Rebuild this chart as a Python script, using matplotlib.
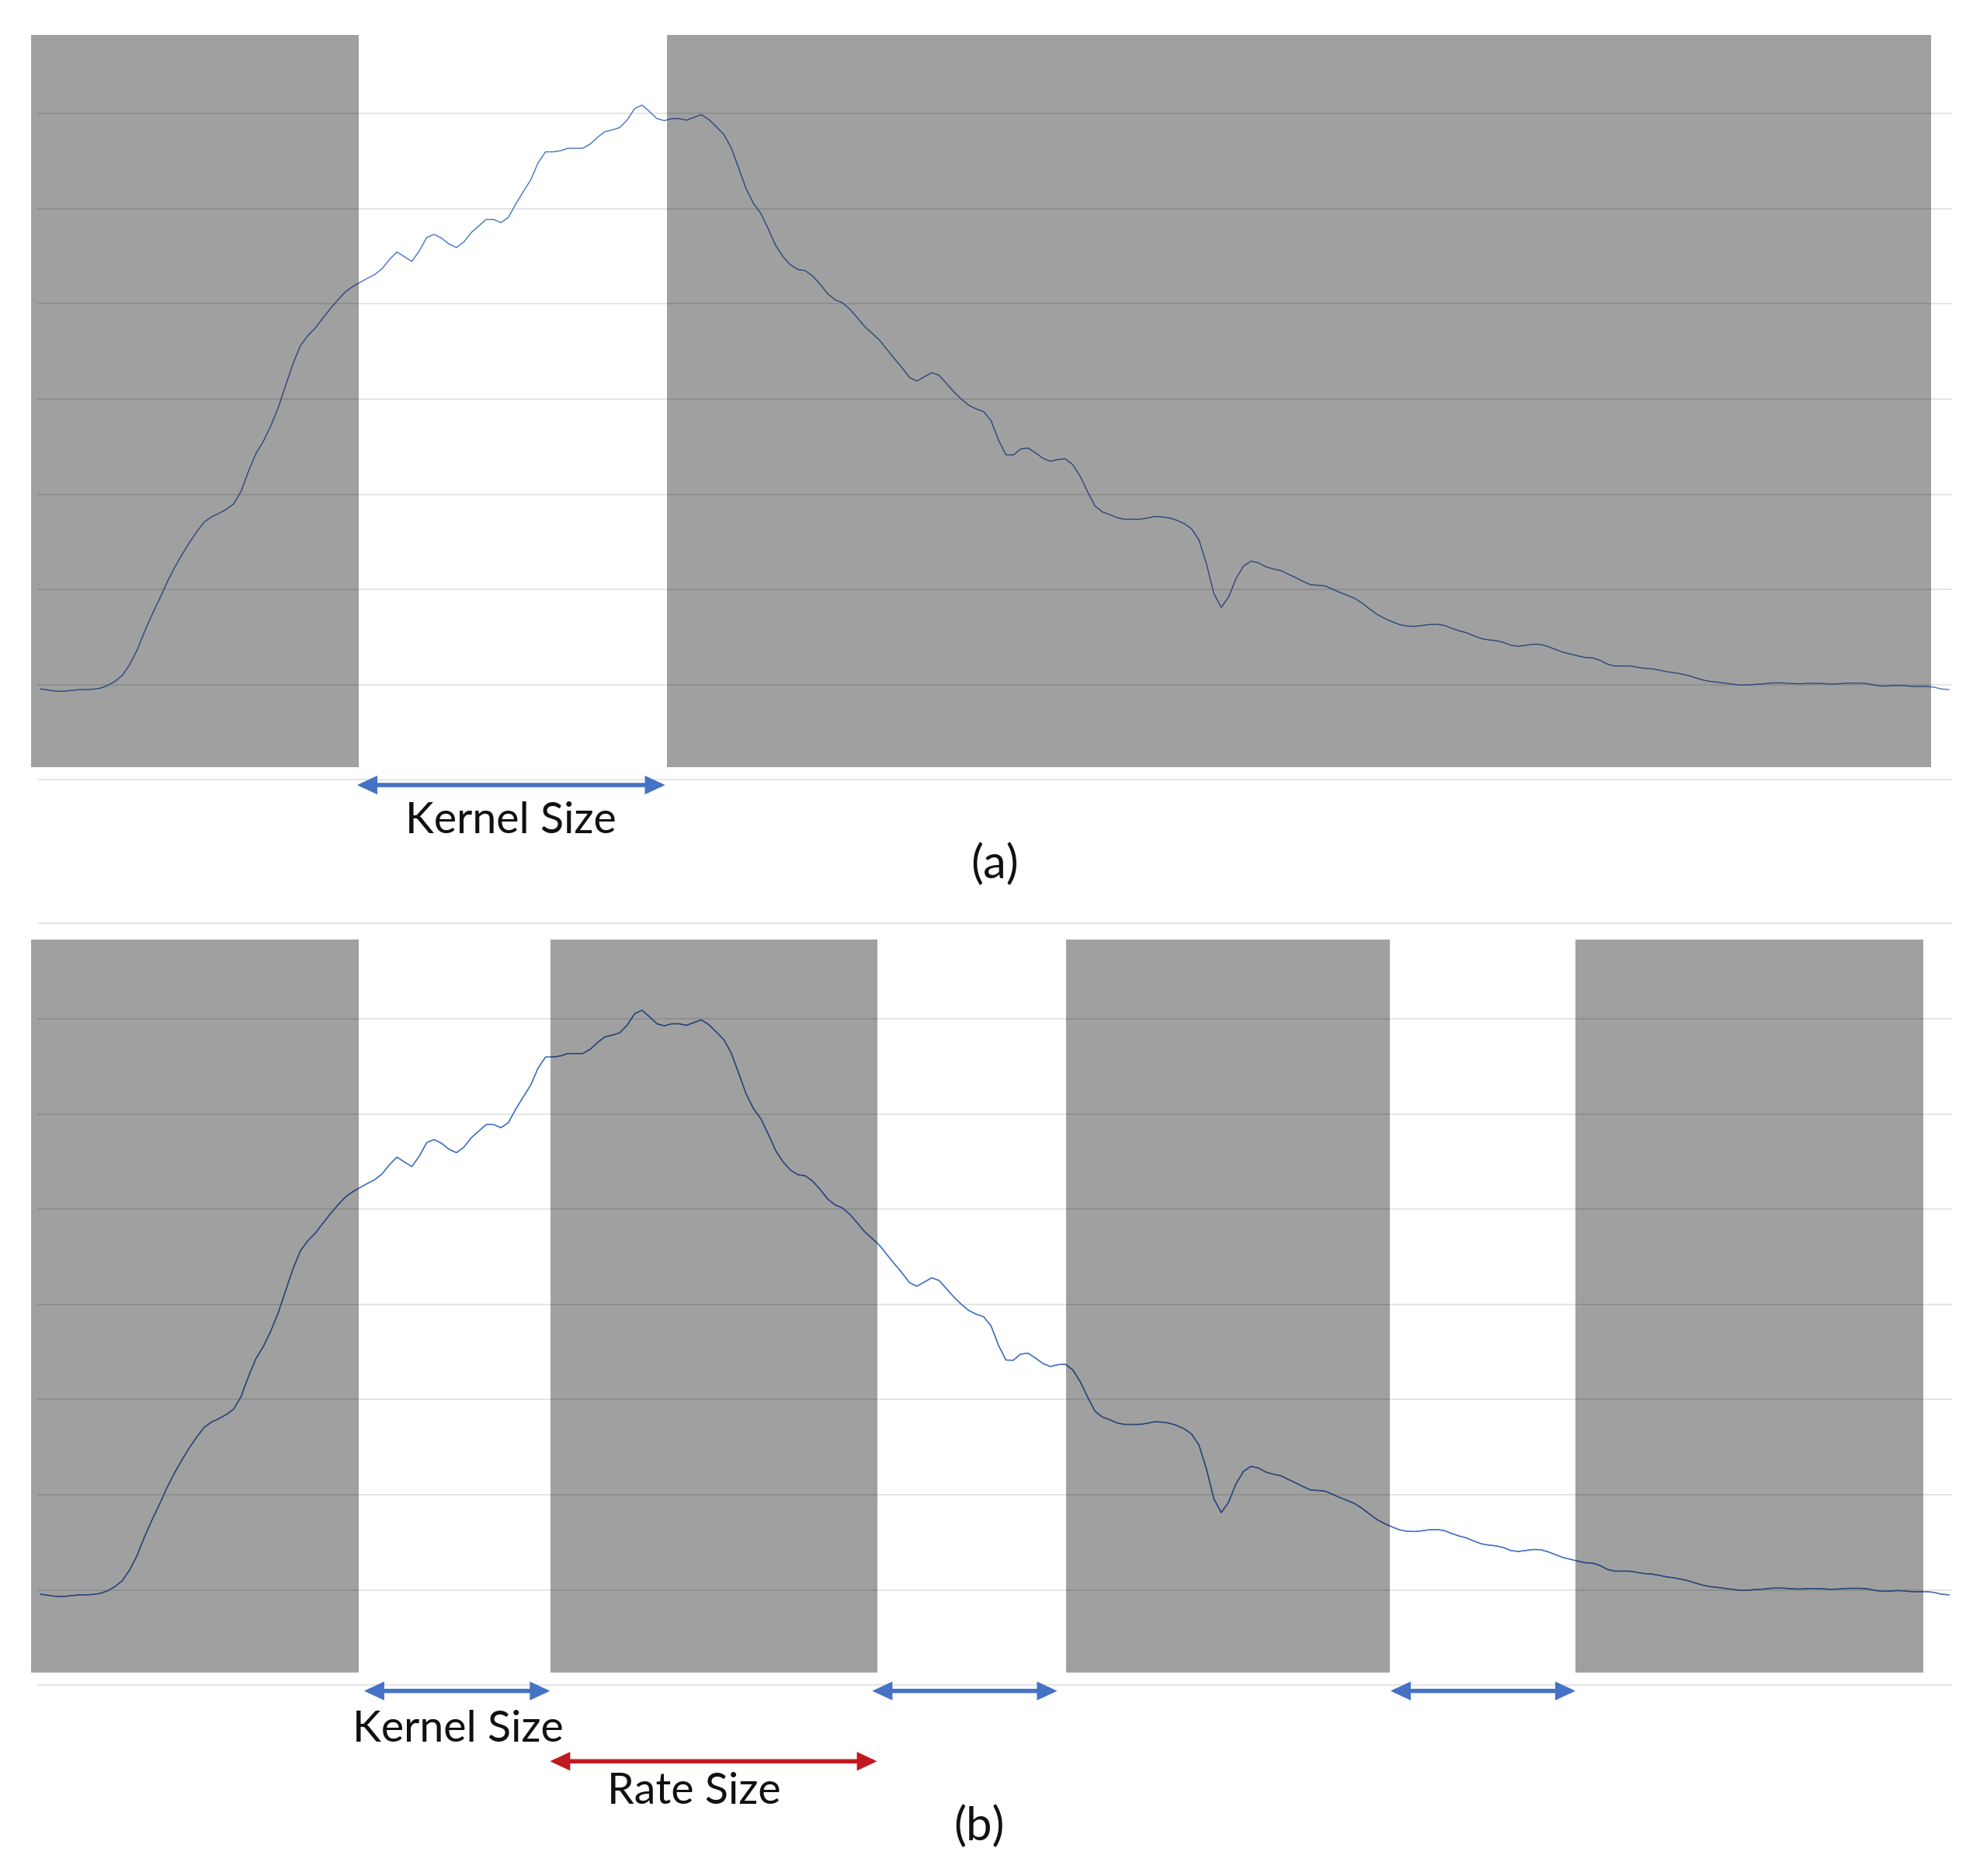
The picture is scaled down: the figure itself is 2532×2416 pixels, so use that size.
import numpy as np
import matplotlib.pyplot as plt
from matplotlib.patches import Rectangle, FancyArrowPatch

plt.rcParams['font.family'] = ['Lato', 'DejaVu Sans']

# signal, one value per step (grid units: gridlines every 10)
values = [
    9.55, 9.44, 9.33, 9.31, 9.39, 9.47, 9.49, 9.52, 9.63, 9.90,
    10.34, 10.97, 12.11, 13.63, 15.59, 17.35, 18.98, 20.70, 22.25, 23.61,
    24.89, 26.03, 27.06, 27.63, 27.99, 28.42, 28.99, 30.32, 32.44, 34.29,
    35.57, 37.20, 39.10, 41.44, 43.75, 45.63, 46.69, 47.48, 48.50, 49.49,
    50.40, 51.24, 51.81, 52.26, 52.69, 53.09, 53.71, 54.69, 55.46, 54.95,
    54.47, 55.57, 56.99, 57.31, 56.91, 56.29, 55.93, 56.51, 57.50, 58.19,
    58.88, 58.88, 58.55, 59.09, 60.52, 61.79, 63.03, 64.82, 65.98, 65.98,
    66.09, 66.35, 66.35, 66.35, 66.78, 67.51, 68.10, 68.28, 68.53, 69.33,
    70.53, 70.89, 70.21, 69.47, 69.26, 69.47, 69.47, 69.31, 69.61, 69.88,
    69.37, 68.61, 67.82, 66.41, 64.31, 62.13, 60.56, 59.50, 57.87, 56.15,
    54.95, 54.09, 53.62, 53.49, 52.92, 52.05, 51.07, 50.44, 50.12, 49.44,
    48.54, 47.61, 46.91, 46.18, 45.20, 44.24, 43.32, 42.29, 41.90, 42.34,
    42.78, 42.51, 41.63, 40.76, 40.00, 39.35, 38.97, 38.70, 37.74, 35.70,
    34.15, 34.13, 34.78, 34.86, 34.35, 33.78, 33.47, 33.66, 33.72, 33.12,
    31.90, 30.27, 28.77, 28.15, 27.87, 27.54, 27.38, 27.38, 27.38, 27.50,
    27.66, 27.63, 27.52, 27.28, 26.93, 26.38, 25.21, 22.73, 19.59, 18.12,
    19.23, 21.16, 22.46, 22.98, 22.81, 22.38, 22.16, 22.00, 21.62, 21.26,
    20.86, 20.51, 20.45, 20.37, 20.04, 19.69, 19.39, 19.06, 18.55, 17.95,
    17.38, 16.97, 16.62, 16.32, 16.16, 16.13, 16.21, 16.32, 16.35, 16.24,
    15.94, 15.67, 15.47, 15.15, 14.85, 14.71, 14.63, 14.45, 14.14, 14.04,
    14.14, 14.25, 14.23, 14.01, 13.71, 13.41, 13.22, 13.03, 12.86, 12.82,
    12.57, 12.16, 11.97, 11.97, 11.97, 11.84, 11.72, 11.67, 11.53, 11.37,
    11.26, 11.12, 10.94, 10.69, 10.47, 10.33, 10.25, 10.15, 10.04, 9.96,
    9.98, 10.04, 10.09, 10.17, 10.20, 10.17, 10.12, 10.09, 10.15, 10.15,
    10.12, 10.07, 10.09, 10.15, 10.17, 10.17, 10.12, 9.96, 9.85, 9.88,
    9.93, 9.90, 9.82, 9.82, 9.82, 9.74, 9.55, 9.49,
]
steps = np.arange(len(values))

grid_a = [0, 10, 20, 30, 40, 50, 60, 70]
grid_b = [0, 10, 20, 30, 40, 50, 60, 70, 80]

# masked (grey) step ranges
masked_a = [(-1.25, 42.84), (84.39, 254.6)]
masked_b = [(-1.25, 42.84), (68.62, 112.65), (138.06, 181.7), (206.74, 253.6)]
mask_lo, mask_hi = 1.36, 78.3

# arrows (start step, end step)
kernel_a = [(42.63, 84.1)]
kernel_b = [(43.56, 68.6), (112.0, 136.9), (181.8, 206.7)]
rate_b = [(68.6, 112.65)]

blue = '#4472C4'
red = '#C0191F'

fig = plt.figure(figsize=(25.32, 24.16), dpi=100)
ax_a = fig.add_axes([0, 0.5174, 1, 0.4826])
ax_b = fig.add_axes([0, 0, 1, 0.5174])
ax_a.set_ylim(-13.18, 81.93)
ax_b.set_ylim(-20.05, 81.91)


def draw_panel(ax, grid, masked, arrows, arrow_y, color):
    ax.set_xlim(-5.469, 259.3)
    ax.axis('off')
    ax.hlines(grid, -0.5, 257.4, color='#DEDEDE', lw=1.1, zorder=1)
    ax.plot(steps, values, color=blue, lw=1.0, zorder=2)
    for x0, x1 in masked:
        ax.add_patch(Rectangle((x0, mask_lo), x1 - x0, mask_hi - mask_lo,
                               facecolor='black', alpha=0.373, lw=0, zorder=3))
    for x0, x1 in arrows:
        ax.add_patch(FancyArrowPatch((x0, arrow_y), (x1, arrow_y),
                                     arrowstyle='<|-|>,head_length=0.6,head_width=0.28',
                                     mutation_scale=20, color=color, lw=4,
                                     shrinkA=0, shrinkB=0, joinstyle='miter', zorder=4))


draw_panel(ax_a, grid_a, masked_a, kernel_a, -0.54, blue)
ax_a.text(63.3, -5.57, 'Kernel Size', fontsize=40, ha='center', va='baseline', color='#111111')
ax_a.text(128.5, -10.33, '(a)', fontsize=43, ha='center', va='baseline', color='#111111')

draw_panel(ax_b, grid_b, masked_b, kernel_b, -0.61, blue)
draw_panel(ax_b, [], [], rate_b, -8.0, red)
ax_b.text(56.2, -5.96, 'Kernel Size', fontsize=40, ha='center', va='baseline', color='#111111')
ax_b.text(87.97, -12.44, 'Rate Size', fontsize=40, ha='center', va='baseline', color='#111111')
ax_b.text(126.4, -16.3, '(b)', fontsize=43, ha='center', va='baseline', color='#111111')

fig.savefig('out.png', dpi=100)
